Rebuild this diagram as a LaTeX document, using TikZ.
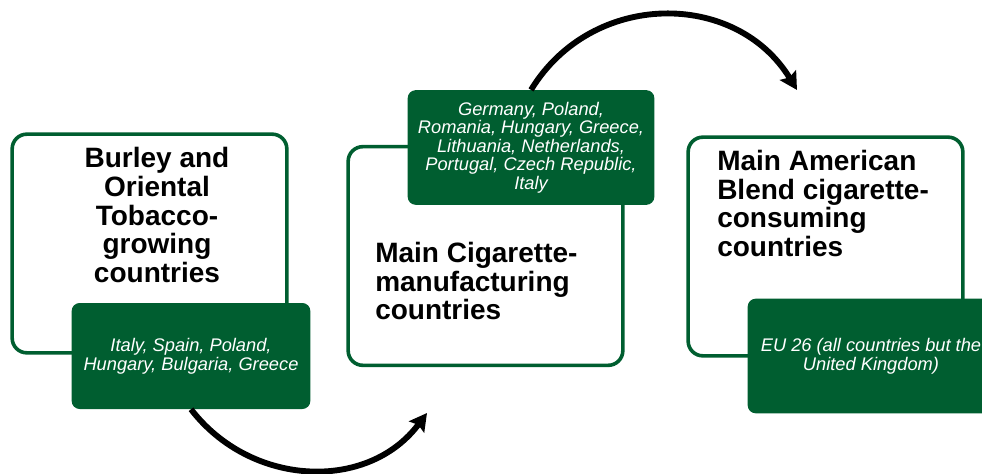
\documentclass[tikz,border=0pt]{standalone}
\usepackage{fontspec}
\setmainfont{Liberation Sans}
\usepackage{tikz}
\usetikzlibrary{positioning, arrows.meta}
\definecolor{leafgreen}{RGB}{0,94,48}
\tikzstyle{region} = [rectangle, rounded corners=11pt, minimum width=206pt, minimum height=164pt, draw=leafgreen, line width=2.7pt, fill=white]
\tikzstyle{countrylist} = [rectangle, rounded corners=6pt, minimum width=185pt, minimum height=86pt, inner sep=0pt, fill=leafgreen, text=white, align=center, font=\itshape\fontsize{13.7}{14.2}\selectfont]
\tikzstyle{heading} = [inner sep=0pt, font=\bfseries\fontsize{21}{21.6}\selectfont]
\tikzstyle{arrow} = [line width=4.4pt,->,>={Stealth[length=13pt, width=14pt, inset=2pt]}]

\begin{document}
\begin{tikzpicture}[x=0.75pt, y=-0.75pt]
        \useasboundingbox (0,0) rectangle (982,474);

        \node[region]                                                       (grow)       at (149.5,243.5) {};
        \node[heading, align=center]                                        (grow title) at (157,215)     {Burley and\\Oriental\\Tobacco-\\growing\\countries};
        \node[countrylist, minimum width=179pt, minimum height=79.5pt]      (grow list)  at (191,356)     {Italy, Spain, Poland,\\Hungary, Bulgaria, Greece};

        \node[region]                                                       (make)       at (485.5,256)   {};
        \node[heading, align=left, anchor=west]                             (make title) at (375,281)     {Main Cigarette-\\manufacturing\\countries};
        \node[countrylist, font=\itshape\fontsize{13.7}{13.9}\selectfont]   (make list)  at (531,147.5)   {Germany, Poland,\\Romania, Hungary, Greece,\\Lithuania, Netherlands,\\Portugal, Czech Republic,\\Italy};

        \node[region]                                                       (use)        at (825.5,246.5) {};
        \node[heading, align=left, anchor=west]                             (use title)  at (717,203.5)   {Main American\\Blend cigarette-\\consuming\\countries};
        \node[countrylist]                                                  (use list)   at (871,356)     {EU 26 (all countries but the\\United Kingdom)};

        \coordinate (make in) at (427,413);
        \coordinate (use in)  at (797,90);

        \draw[arrow] (grow list.south) .. controls +(60,78) and +(-59,79) .. (make in);
        \draw[arrow] (make list.north) .. controls +(61,-100) and +(-61,-100) .. (use in);
    \end{tikzpicture}
\end{document}
